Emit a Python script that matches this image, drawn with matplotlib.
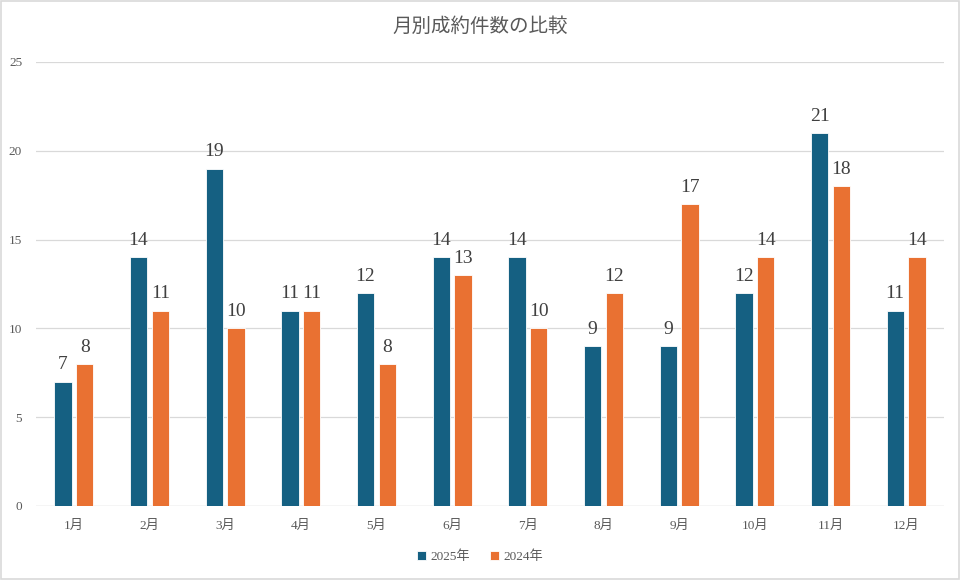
import matplotlib
matplotlib.use("Agg")
import matplotlib.pyplot as plt
from matplotlib.patches import Rectangle
import numpy as np

months = ["1月", "2月", "3月", "4月", "5月", "6月", "7月", "8月", "9月", "10月", "11月", "12月"]
y2025 = [7, 14, 19, 11, 12, 14, 14, 9, 9, 12, 21, 11]
y2024 = [8, 11, 10, 11, 8, 13, 10, 12, 17, 14, 18, 14]
series_names = ["2025年", "2024年"]
yticks = [0, 5, 10, 15, 20, 25]

FAM = ["Liberation Serif", "Noto Sans CJK JP", "DejaVu Sans"]
plt.rcParams["font.family"] = FAM

c_blue = "#156082"
c_orange = "#E97132"
txt = "#595959"

fig = plt.figure(figsize=(9.6, 5.8), dpi=100)
ax = fig.add_axes([36/960, 1-506/580, 908/960, 444/580])

x = np.arange(len(months))
w = 0.229
off = 0.145
b1 = ax.bar(x - off, y2025, w, color=c_blue, label=series_names[0], zorder=3, edgecolor="white", linewidth=0.6)
b2 = ax.bar(x + off, y2024, w, color=c_orange, label=series_names[1], zorder=3, edgecolor="white", linewidth=0.6)

for bars, vals in ((b1, y2025), (b2, y2024)):
    for r, v in zip(bars, vals):
        ax.annotate(str(v), (r.get_x() + r.get_width()/2, v), xytext=(0, 6),
                    textcoords="offset points", ha="center", va="bottom",
                    fontsize=14, color="#404040")

ax.set_xlim(-0.5, len(months) - 0.5)
ax.set_ylim(0, 25)
ax.set_yticks(yticks)
ax.set_yticklabels([str(t) for t in yticks], fontsize=9.5, color=txt)
ax.set_xticks(x)
ax.set_xticklabels(months, fontsize=9.5, color=txt)
ax.tick_params(axis="both", length=0)
ax.tick_params(axis="x", pad=10)
ax.tick_params(axis="y", pad=10)
ax.grid(axis="y", color="#D9D9D9", linewidth=0.9, zorder=0)
for s in ax.spines.values():
    s.set_visible(False)
ax.axhline(0, color="#D9D9D9", linewidth=0.9, zorder=1)

fig.text(0.5, 1-27/580, "月別成約件数の比較", ha="center", va="center",
         fontsize=14, color=txt)

leg = fig.legend(handles=[b1, b2], loc="center", bbox_to_anchor=(0.5, 1-557/580),
                 ncol=2, frameon=False, fontsize=9.5, handlelength=0.7, handleheight=0.7,
                 handletextpad=0.3, columnspacing=1.5)
for t in leg.get_texts():
    t.set_color(txt)

fig.patches.append(Rectangle((0.001, 0.001), 0.998, 0.998, transform=fig.transFigure,
                             fill=False, edgecolor="#D9D9D9", linewidth=1.2))

fig.savefig("out.png", dpi=100, facecolor="white")
